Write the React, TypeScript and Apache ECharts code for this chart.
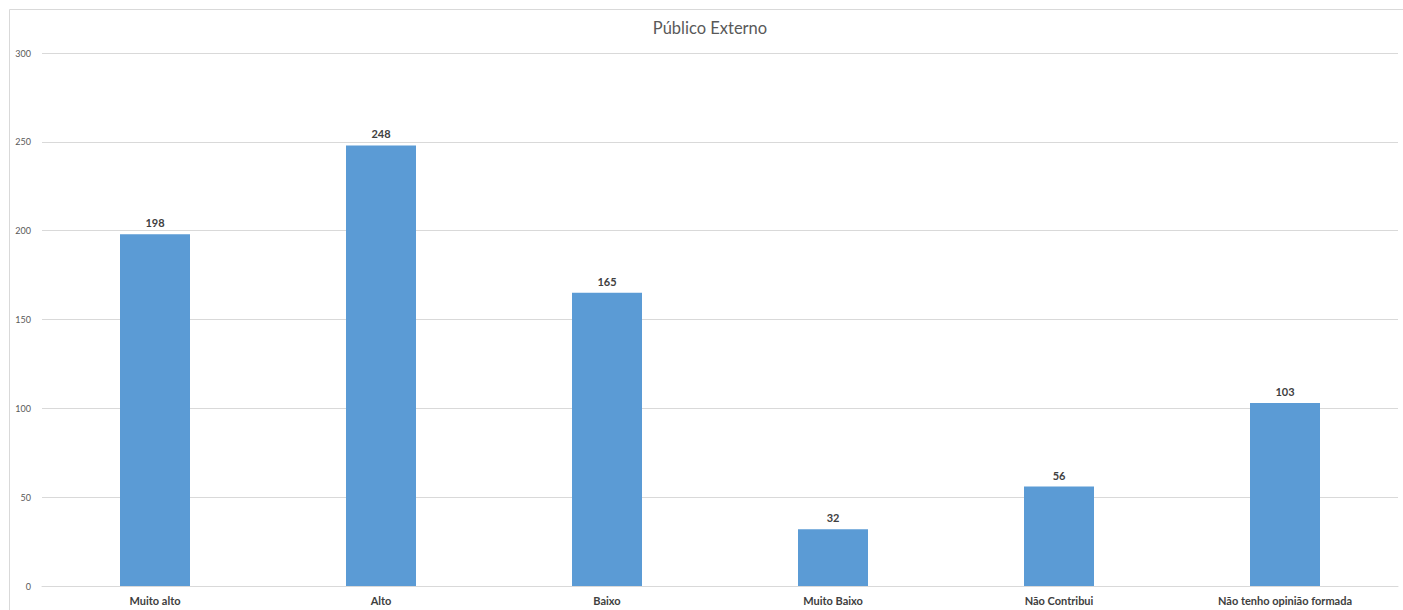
import React, { useEffect, useRef } from "react";
import * as echarts from "echarts";

const categories = ["Muito alto", "Alto", "Baixo", "Muito Baixo", "Não Contribui", "Não tenho opinião formada"];
const values = [198, 248, 165, 32, 56, 103];
const yTicks = { min: 0, max: 300, interval: 50 };
const title = "Público Externo";

export default function App() {
  const ref = useRef<HTMLDivElement>(null);
  useEffect(() => {
    const chart = echarts.init(ref.current!, undefined, { renderer: "svg" });
    chart.setOption({
      animation: false,
      backgroundColor: "#ffffff",
      textStyle: { fontFamily: "Lato" },
      graphic: [
        {
          type: "rect",
          shape: { x: 9.5, y: 9.5, width: 1400, height: 610 },
          style: { fill: "none", stroke: "#d9d9d9", lineWidth: 1 },
          silent: true,
        },
        {
          type: "text",
          x: 710,
          y: 28,
          style: {
            text: title,
            fontFamily: "Lato",
            fontSize: 16.5,
            fill: "#595959",
            textAlign: "center",
            textVerticalAlign: "middle",
          },
          silent: true,
        },
      ],
      grid: { left: 42, right: 5, top: 53, bottom: 24, containLabel: false },
      xAxis: {
        type: "category",
        data: categories,
        axisLine: { show: true, lineStyle: { color: "#d9d9d9" } },
        axisTick: { show: false },
        axisLabel: { color: "#404040", fontSize: 11, fontWeight: "bold", margin: 9, fontFamily: "Lato", interval: 0 },
      },
      yAxis: {
        type: "value",
        min: yTicks.min,
        max: yTicks.max,
        interval: yTicks.interval,
        axisLine: { show: false },
        axisTick: { show: false },
        splitLine: { lineStyle: { color: "#d9d9d9" } },
        axisLabel: { color: "#595959", fontSize: 9, margin: 11, fontFamily: "Lato" },
      },
      series: [
        {
          type: "bar",
          data: values,
          barWidth: 70,
          itemStyle: { color: "#5b9bd5" },
          label: {
            show: true,
            position: "top",
            distance: 6,
            color: "#404040",
            fontSize: 11,
            fontWeight: "bold",
            fontFamily: "Lato",
          },
        },
      ],
    });
    return () => chart.dispose();
  }, []);
  return <div ref={ref} style={{ position: "absolute", left: 0, top: 0, width: 1403, height: 610 }} />;
}
